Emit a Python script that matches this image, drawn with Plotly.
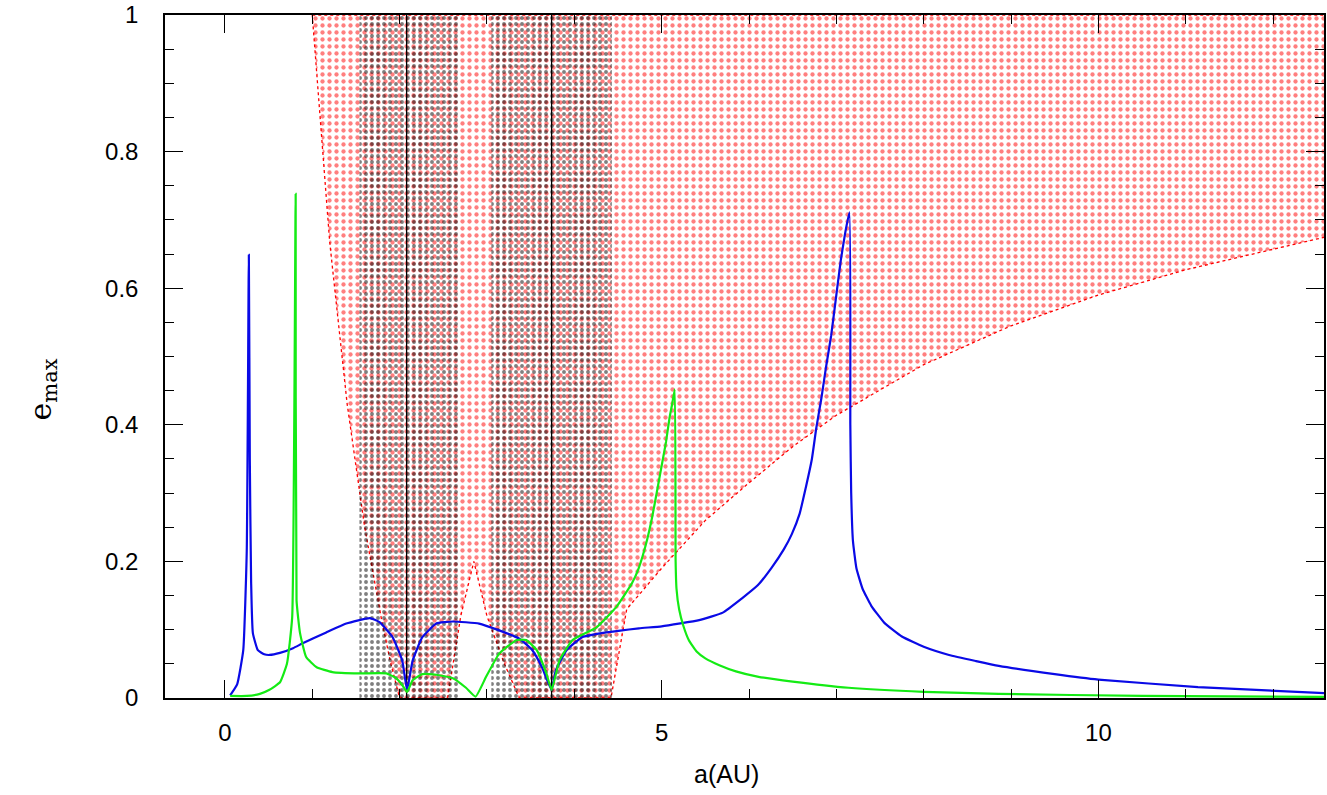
import plotly.graph_objects as go

# ---------------- data ----------------
# secular e_max curve 1 (blue)
blue_a = [0.06, 0.14, 0.21, 0.25, 0.274, 0.285, 0.30, 0.32, 0.377, 0.45, 0.51, 0.63, 0.78, 0.89, 1.16, 1.39,
          1.66, 1.77, 1.92, 2.03, 2.085, 2.15, 2.26, 2.42, 2.61, 2.91, 3.14, 3.37, 3.52, 3.63, 3.74, 3.79,
          3.91, 4.09, 4.37, 4.74, 5.0, 5.43, 5.7, 5.92, 6.1, 6.26, 6.4, 6.49, 6.58, 6.65, 6.72, 6.77, 6.83,
          6.88, 6.94, 6.99, 7.05, 7.1, 7.15,
          7.16, 7.17, 7.19, 7.23, 7.3, 7.4, 7.55, 7.75, 8.0, 8.29, 8.6, 8.86, 9.5, 10.0, 11.14, 12.6]
blue_e = [0.004, 0.02, 0.07, 0.216, 0.649, 0.35, 0.17, 0.095, 0.07, 0.064, 0.063, 0.066, 0.073, 0.08, 0.096, 0.109,
          0.117, 0.111, 0.089, 0.055, 0.012, 0.055, 0.089, 0.109, 0.112, 0.109, 0.099, 0.087, 0.07, 0.045, 0.012, 0.041,
          0.07, 0.089, 0.096, 0.102, 0.105, 0.114, 0.125, 0.146, 0.165, 0.191, 0.218, 0.24, 0.27, 0.308, 0.35, 0.395, 0.44,
          0.483, 0.53, 0.58, 0.64, 0.68, 0.711,
          0.40, 0.30, 0.23, 0.19, 0.16, 0.135, 0.11, 0.09, 0.075, 0.063, 0.054, 0.047, 0.035, 0.027, 0.016, 0.007]

# secular e_max curve 2 (green)
green_a = [0.06, 0.25, 0.40, 0.51, 0.63, 0.71, 0.77, 0.81, 0.82, 0.86, 0.93, 1.05, 1.23, 1.54, 1.85, 1.96,
           2.03, 2.085, 2.15, 2.26, 2.42, 2.61, 2.76, 2.87, 2.99, 3.14, 3.34, 3.45, 3.57, 3.68, 3.74, 3.83,
           3.98, 4.25, 4.48, 4.66, 4.74, 4.82, 4.89, 4.95, 5.01, 5.05, 5.09, 5.12, 5.15,
           5.16, 5.17, 5.2, 5.25, 5.31, 5.4, 5.5, 5.66, 5.85, 6.11, 6.5, 7.14, 8.0, 8.86, 10.5, 12.6]
green_e = [0.003, 0.003, 0.006, 0.012, 0.023, 0.05, 0.118, 0.738, 0.143, 0.095, 0.06, 0.045, 0.038, 0.036, 0.036, 0.029,
           0.019, 0.009, 0.026, 0.035, 0.034, 0.029, 0.015, 0.002, 0.031, 0.065, 0.085, 0.085, 0.07, 0.036, 0.012, 0.055,
           0.085, 0.103, 0.133, 0.168, 0.191, 0.225, 0.264, 0.305, 0.347, 0.375, 0.41, 0.43, 0.452,
           0.20, 0.16, 0.13, 0.105, 0.085, 0.068, 0.058, 0.048, 0.039, 0.031, 0.024, 0.015, 0.009, 0.006, 0.003, 0.0015]

# planet semi-major axes (solid vertical lines)
planet_a = [2.08, 3.74]
# zones hatched with black dotted lines
zone_lo = [1.54, 3.05]
zone_hi = [2.67, 4.43]

# outline of the orbit-crossing region hatched in red
red_a = [1.00, 12.6, 12.6, 11.0, 10.0, 9.0, 8.0, 7.0, 6.5, 6.0, 5.5, 5.0, 4.6, 4.42,
         3.37, 3.2, 3.0, 2.85, 2.7, 2.55, 2.0, 1.9, 1.8, 1.67, 1.6, 1.4, 1.2, 1.0]
red_e = [1.00, 1.00, 0.675, 0.627, 0.59, 0.545, 0.488, 0.414, 0.368, 0.315, 0.26, 0.19, 0.13, 0.0,
         0.0, 0.05, 0.12, 0.20, 0.12, 0.0, 0.0, 0.05, 0.11, 0.20, 0.25, 0.43, 0.667, 1.00]

x_ticks = [0, 5, 10]
y_ticks = [0, 0.2, 0.4, 0.6, 0.8, 1.0]
y_ticktext = ["0", "0.2", "0.4", "0.6", "0.8", "1"]

# ---------------- figure ----------------
fig = go.Figure()

fig.add_trace(go.Scatter(
    x=red_a, y=red_e, mode="lines", fill="toself", fillcolor="rgba(0,0,0,0)",
    line=dict(color="red", width=1.3, dash="dot"),
    fillpattern=dict(shape=".", fgcolor="rgb(255,0,0)", size=7, solidity=0.3),
    hoverinfo="skip", showlegend=False))

for lo, hi in zip(zone_lo, zone_hi):
    fig.add_trace(go.Scatter(
        x=[lo, hi, hi, lo, lo], y=[0, 0, 1, 1, 0], mode="lines", fill="toself",
        fillcolor="rgba(0,0,0,0)", line=dict(width=0, color="black"),
        fillpattern=dict(shape=".", fgcolor="black", size=6, solidity=0.33),
        hoverinfo="skip", showlegend=False))

for p in planet_a:
    fig.add_trace(go.Scatter(x=[p, p], y=[0, 1], mode="lines",
                             line=dict(color="black", width=1.3), showlegend=False, hoverinfo="skip"))

fig.add_trace(go.Scatter(x=blue_a, y=blue_e, mode="lines",
                         line=dict(color="rgb(10,10,230)", width=2.2, shape="spline", smoothing=0.4),
                         showlegend=False))
fig.add_trace(go.Scatter(x=green_a, y=green_e, mode="lines",
                         line=dict(color="rgb(20,235,20)", width=2.2, shape="spline", smoothing=0.4),
                         showlegend=False))

tickfont = dict(family="Liberation Sans, Arial, sans-serif", size=24, color="black")

fig.update_xaxes(range=[-0.686, 12.583], tickvals=x_ticks, ticks="inside", ticklen=18, tickwidth=1.2,
                 tickcolor="black", mirror="allticks", showline=True, linecolor="black", linewidth=1.5,
                 showgrid=False, zeroline=False, tickfont=tickfont, ticklabelstandoff=12,
                 ticklabeloverflow="allow",
                 minor=dict(ticks="inside", dtick=1, tick0=0, ticklen=9, tickwidth=1.2, tickcolor="black", showgrid=False))
fig.update_yaxes(range=[0, 1], tickvals=y_ticks, ticktext=y_ticktext, ticks="inside", ticklen=18, tickwidth=1.2,
                 tickcolor="black", mirror="allticks", showline=True, linecolor="black", linewidth=1.5,
                 showgrid=False, zeroline=False, tickfont=tickfont, ticklabelstandoff=20,
                 ticklabeloverflow="allow",
                 minor=dict(ticks="inside", dtick=0.05, tick0=0, ticklen=9, tickwidth=1.2, tickcolor="black", showgrid=False))

fig.add_annotation(text="a(AU)", xref="paper", yref="paper", x=(727 - 165) / 1161, y=-0.112,
                   xanchor="center", yanchor="middle", showarrow=False,
                   font=dict(family="Liberation Sans, Arial, sans-serif", size=25, color="black"))
fig.add_annotation(text="e<sub>max</sub>", xref="paper", yref="paper", x=-0.106, y=(698 - 388) / 686,
                   xanchor="center", yanchor="middle", showarrow=False, textangle=-90,
                   font=dict(family="DejaVu Serif, serif", size=30, color="black"))

fig.update_layout(width=1327, height=795, margin=dict(l=165, r=1, t=12, b=97),
                  plot_bgcolor="white", paper_bgcolor="white")

fig.write_html("out.html", config={"displayModeBar": False},
               post_script="document.body.style.margin='0px';document.body.style.overflow='hidden';")
